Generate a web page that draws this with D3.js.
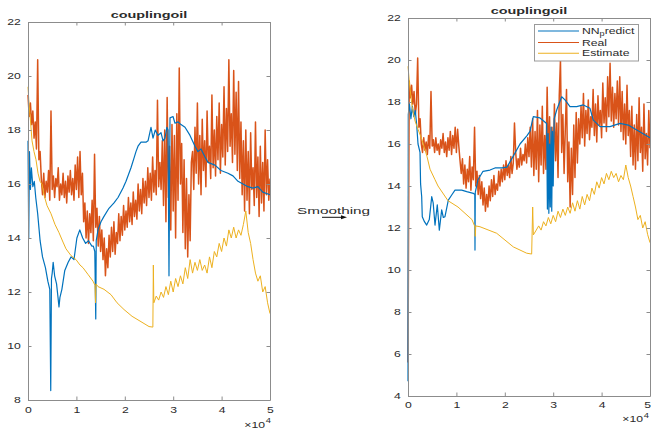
<!DOCTYPE html>
<html>
<head>
<meta charset="utf-8">
<script src="https://cdn.jsdelivr.net/npm/d3@7"></script>
<style>
  body { margin: 0; background: #fff; }
  svg { display: block; }
  text { font-family: "Liberation Sans", Arial, sans-serif; fill: #2b2b2b; }
</style>
</head>
<body>
<svg id="chart" width="651" height="429"></svg>
<script>
// ---- data -------------------------------------------------------------
// sample spacing of the "Real" records (samples)
const step = 250;
const xTicks = [0, 10000, 20000, 30000, 40000, 50000];
const yTicksLeft = [8, 10, 12, 14, 16, 18, 20, 22];
const yTicksRight = [4, 6, 8, 10, 12, 14, 16, 18, 20, 22];
const seriesNames = ["NN", "Real", "Estimate"];

// measured oil temperature, raw run
const realLeft = [
  19.3,18.5,19.0,18.2,18.7,17.7,18.3,17.3,20.6,16.9,17.2,
  16.2,15.6,16.4,15.5,16.1,15.7,16.5,15.4,18.7,15.8,16.3,15.5,16.2,15.9,16.6,15.4,16.0,15.6,16.4,15.5,16.1,15.3,16.3,15.7,16.5,15.6,16.2,15.4,16.7,15.8,17.0,15.5,17.2,15.6,16.4,
  14.6,15.3,14.0,15.0,13.8,14.9,14.2,15.4,13.9,17.1,14.4,15.1,13.7,14.8,13.5,
  14.3,13.2,14.0,12.6,13.6,12.9,14.1,13.3,14.4,13.5,14.6,13.4,14.2,13.8,14.9,
  13.9,14.8,14.1,15.2,14.3,15.0,14.4,15.5,14.6,15.3,14.5,15.7,14.8,15.4,14.7,16.0,15.0,15.8,14.9,16.2,15.3,16.1,15.2,16.6,15.5,16.4,15.4,17.0,15.7,16.5,15.6,19.1,15.9,16.8,15.8,
  17.6,15.2,18.0,14.6,19.2,15.5,17.4,14.3,18.2,15.0,17.8,14.0,18.6,15.4,20.3,16.0,17.5,14.2,16.9,13.6,16.2,13.3,15.6,13.9,16.8,
  17.2,15.8,18.1,16.4,19.0,16.0,17.8,15.6,18.4,16.5,17.6,15.9,18.7,16.8,17.4,16.2,19.3,16.6,18.0,16.3,18.5,16.9,19.0,16.4,18.2,17.0,19.6,16.7,18.8,17.2,20.6,17.4,18.6,16.8,20.2,17.1,19.4,16.5,19.8,16.2,
  18.3,15.6,17.6,15.0,18.0,15.4,17.2,14.9,17.9,15.8,16.6,15.2,18.3,15.5,17.0,14.8,17.4,15.3,16.8,15.0,18.0,15.6,16.9,15.4,16.2
];

// network prediction, raw run: [sample, value]
const nnLeft = [
  [0,17.6],[150,14.0],[300,17.2],[500,15.8],[700,16.6],[1000,15.9],[1300,16.1],[1600,15.5],[2000,14.9],[2300,14.3],
  [2500,13.9],[3000,13.3],[3600,12.9],[4100,12.4],[4500,12.1],[4700,8.35],[4850,12.5],[5000,12.7],[5200,13.1],[5500,12.6],
  [5900,12.3],[6200,11.8],[6400,11.45],[6600,11.8],[7000,12.1],[7600,12.8],[8300,13.1],[8900,13.3],[9500,13.2],[10100,14.0],
  [10700,14.3],[11300,14.0],[11900,13.8],[12500,13.9],[13200,13.7],[13500,13.7],[13800,13.5],[14000,11.0],[14100,13.9],[14460,14.3],
  [15080,14.6],[15700,14.8],[16730,15.1],[17770,15.3],[18600,15.5],[19630,15.85],[20250,16.1],[21280,16.6],[21900,16.96],[22310,17.2],
  [22730,17.4],[23350,17.55],[24380,17.55],[24800,17.6],[25410,18.1],[25830,17.7],[26300,18.0],[26860,17.8],[27480,17.9],[27900,17.6],
  [28300,17.7],[28700,18.1],[28930,18.0],[29130,12.6],[29340,18.45],[29960,18.5],[30370,18.25],[30990,18.3],[31610,18.2],[32440,18.1],
  [33470,17.8],[34500,17.4],[35120,17.2],[35740,17.3],[36570,17.0],[37190,16.8],[38630,16.7],[39870,16.5],[41320,16.4],[42350,16.3],
  [43390,16.1],[44420,16.0],[45450,15.9],[46490,15.85],[47500,15.9],[48500,15.7],[50000,15.6]
];

// model estimate, raw run: [sample, value]
const estLeft = [
  [0,19.6],[200,19.0],[400,18.6],[830,17.6],[1240,17.2],[1650,16.9],[2070,16.4],[2480,16.1],[2900,16.0],[3300,15.6],
  [3930,15.2],[4750,14.9],[5580,14.5],[6400,14.2],[7230,13.85],[7850,13.6],[8880,13.35],[9920,13.2],[10740,13.0],[11360,12.9],
  [12400,12.65],[13430,12.4],[13840,12.25],[13950,11.6],[14050,12.3],[14460,12.2],[15700,12.1],[17150,11.9],[18400,11.6],[19840,11.35],
  [21500,11.1],[23350,10.9],[25000,10.72],[25800,10.7],[25900,13.0],[26000,11.6],[26500,11.85],[27000,11.7],[27500,12.0],[28000,11.8],
  [28500,12.2],[29000,11.9],[29500,12.4],[30000,12.0],[30500,12.5],[31000,12.2],[31500,12.6],[32000,12.3],[32500,12.9],[33000,12.5],
  [33500,13.2],[34000,12.7],[34500,13.1],[35000,12.8],[35500,13.2],[36000,12.8],[36500,13.0],[37000,12.7],[37500,13.3],[38000,12.9],
  [38500,13.5],[39000,13.3],[39500,13.8],[40000,13.5],[40500,14.0],[41000,13.7],[41500,14.3],[42000,14.0],[42500,14.4],[43000,14.0],
  [43500,14.3],[44000,14.1],[44500,14.5],[45000,15.0],[45500,14.2],[46000,13.8],[46500,13.2],[47000,12.7],[47500,12.4],[48000,12.6],
  [48500,12.0],[49000,12.2],[49500,11.6],[50000,11.2]
];

// measured oil temperature, smoothed run
const realRight = [
  5.6,
  19.0,18.2,18.8,17.9,18.5,17.4,17.9,20.1,16.8,17.2,
  16.0,15.6,16.3,15.7,16.1,15.5,16.4,15.8,18.5,15.9,16.2,15.6,16.3,15.7,16.0,15.5,16.2,15.8,16.5,15.6,16.1,15.4,16.3,15.7,16.6,15.5,16.4,15.8,16.8,15.6,16.7,15.9,
  15.2,14.6,15.3,14.1,15.0,13.9,14.8,14.2,15.4,13.8,14.9,14.3,16.8,14.0,14.7,13.6,14.5,13.4,
  14.2,13.1,13.9,12.8,13.6,13.0,14.0,13.3,14.3,13.5,14.5,13.6,14.1,13.8,14.7,
  14.0,14.8,14.2,15.0,14.3,15.2,14.5,15.0,14.4,15.4,14.6,15.1,17.0,15.6,14.8,15.3,14.9,15.8,15.0,15.5,15.2,16.0,15.1,16.3,15.4,
  16.8,14.9,17.2,14.5,16.6,14.8,17.6,14.2,16.9,15.0,17.8,14.6,16.4,14.8,18.7,15.3,17.3,14.1,16.8,14.9,17.9,15.2,17.0,14.4,18.3,20.0,15.6,17.4,14.6,16.7,18.6,14.2,16.1,13.0,15.8,13.6,16.9,14.4,17.5,15.1,17.2,
  16.0,17.8,16.3,18.4,15.9,17.6,16.5,18.1,16.2,17.3,16.8,18.6,16.4,17.9,16.1,18.3,16.9,17.6,16.3,18.9,17.0,18.2,16.6,19.2,17.3,19.85,17.1,18.7,16.8,18.4,17.2,19.0,16.9,19.2,16.6,18.5,16.2,17.9,16.0,18.8,16.4,17.6,
  15.4,17.8,15.0,16.9,14.8,17.4,15.2,18.2,15.6,16.8,14.7,17.9,15.3,16.5,15.0,17.6,15.8
];

// network prediction, smoothed run: [sample, value]
const nnRight = [
  [0,4.7],[60,17.4],[300,17.9],[600,17.2],[900,17.8],[1200,17.3],[1500,17.6],[1800,16.9],[2070,16.0],[2480,15.6],
  [2600,14.1],[2830,13.49],[2950,12.54],[3400,12.3],[3860,12.14],[4400,12.4],[4900,13.49],[5200,13.2],[5580,12.14],[6050,13.1],
  [6470,11.9],[6960,12.86],[7300,12.5],[7640,12.54],[8330,13.33],[9030,13.57],[9710,13.8],[11090,13.8],[12130,13.73],[13490,13.65],
  [13800,13.6],[13840,10.95],[13900,13.7],[14460,14.3],[15500,14.7],[16940,14.76],[17970,14.86],[19420,14.86],[20450,14.9],[21690,15.4],
  [23140,16.0],[24590,16.4],[25200,16.6],[25890,17.3],[27270,17.24],[28650,16.98],[28800,12.9],[28950,16.5],[29100,12.7],[29250,16.0],
  [29400,13.0],[29550,16.8],[29700,12.8],[29850,16.6],[30000,14.0],[30200,17.2],[30720,17.62],[31750,18.25],[32440,18.1],[33470,17.78],
  [34850,17.78],[36220,17.86],[37600,17.7],[38290,17.14],[39670,16.83],[41730,16.83],[43800,16.98],[45510,16.9],[47000,16.7],[48500,16.5],
  [50000,16.3]
];

// model estimate, smoothed run: [sample, value]
const estRight = [
  [0,19.7],[300,18.9],[830,17.8],[1450,17.1],[2070,16.7],[2890,16.2],[3930,15.4],[4550,14.8],[5580,14.3],[6200,14.0],
  [8260,13.3],[10330,13.0],[13220,12.4],[13840,12.05],[13900,11.6],[14000,12.1],[14870,12.06],[18320,11.75],[21760,11.1],[24520,10.8],
  [25550,10.76],[25760,13.0],[25900,11.67],[26500,11.9],[27000,12.1],[27500,11.9],[28000,12.3],[28500,12.1],[29000,12.5],[29500,12.2],
  [30000,12.6],[30500,12.3],[31000,12.8],[31500,12.5],[32000,12.9],[32500,12.6],[33000,13.0],[33500,12.7],[34000,13.2],[34500,12.8],
  [35000,13.3],[35500,12.9],[36000,13.5],[36500,13.1],[37000,13.6],[37500,13.3],[38000,13.9],[38500,13.6],[39000,14.2],[39500,13.9],
  [40000,14.4],[40500,14.1],[41000,14.6],[41500,14.3],[42000,14.7],[42500,14.4],[43000,14.6],[43500,14.2],[44000,14.5],[44500,14.3],
  [45000,15.0],[45500,14.4],[46000,14.0],[46500,13.5],[47000,13.0],[47500,12.4],[48000,12.6],[48500,12.0],[49000,12.3],[49500,11.7],
  [50000,11.3]
];

// ---- drawing ----------------------------------------------------------
const colors = { nn: "#0072BD", real: "#D95319", est: "#EDB120" };
const axisGray = "#8c8c8c";
const fontSize = 8.6;
const stretch = 1.42;     // horizontal widening applied to all labels
const pageWidth = 651;

const svg = d3.select("#chart");

function panel(o) {
  const x = d3.scaleLinear().domain([0, 50000]).range([o.left, o.right]);
  const y = d3.scaleLinear().domain([o.yTicks[0], o.yTicks[o.yTicks.length - 1]]).range([o.bottom, o.top]);
  const g = svg.append("g");

  g.append("rect")
    .attr("x", o.left).attr("y", o.top)
    .attr("width", o.right - o.left).attr("height", o.bottom - o.top)
    .attr("fill", "#fff");

  const line = d3.line().x(d => x(d[0])).y(d => y(d[1]));
  const realPts = o.real.map((v, i) => [i * step, v]);

  g.append("path").datum(realPts).attr("d", line)
    .attr("fill", "none").attr("stroke", colors.real).attr("stroke-width", 1.5).attr("stroke-linejoin", "round");
  g.append("path").datum(o.nn).attr("d", line)
    .attr("fill", "none").attr("stroke", colors.nn).attr("stroke-width", 1.2).attr("stroke-linejoin", "round");
  g.append("path").datum(o.est).attr("d", line)
    .attr("fill", "none").attr("stroke", colors.est).attr("stroke-width", 1).attr("stroke-linejoin", "round");

  const tick = 3.5;
  const styleAxis = sel => {
    sel.select(".domain").attr("stroke", axisGray).attr("stroke-width", 1);
    sel.selectAll(".tick line").attr("stroke", axisGray).attr("stroke-width", 1);
  };

  const bottom = g.append("g").attr("transform", `translate(0,${o.bottom})`)
    .call(d3.axisBottom(x).tickValues(xTicks).tickSize(-tick).tickSizeOuter(0).tickFormat(d => d / 10000))
    .call(styleAxis);
  bottom.selectAll(".tick text")
    .attr("y", o.xLabelDy).attr("dy", 0)
    .attr("font-size", fontSize).attr("fill", "#2b2b2b")
    .attr("transform", `scale(${stretch},1)`);
  // keep the last label inside the page when the axis ends at its edge
  if (o.right > pageWidth - 6) {
    bottom.selectAll(".tick text").filter(d => d === 50000)
      .attr("text-anchor", "end").attr("x", (pageWidth - 0.5 - o.right) / stretch);
  }

  g.append("g").attr("transform", `translate(0,${o.top})`)
    .call(d3.axisTop(x).tickValues(xTicks).tickSize(-tick).tickSizeOuter(0).tickFormat(""))
    .call(styleAxis);

  const left = g.append("g").attr("transform", `translate(${o.left},0)`)
    .call(d3.axisLeft(y).tickValues(o.yTicks).tickSize(-tick).tickSizeOuter(0))
    .call(styleAxis);
  left.selectAll(".tick text")
    .attr("x", -7.3 / stretch).attr("dy", "0.34em")
    .attr("font-size", fontSize).attr("fill", "#2b2b2b")
    .attr("transform", `scale(${stretch},1)`);

  g.append("g").attr("transform", `translate(${o.right},0)`)
    .call(d3.axisRight(y).tickValues(o.yTicks).tickSize(-tick).tickSizeOuter(0).tickFormat(""))
    .call(styleAxis);

  // axis exponent  ×10^4
  const ex = g.append("g").attr("transform", `translate(${o.expX},${o.expY})`);
  ex.append("text").attr("text-anchor", "end").attr("font-size", fontSize)
    .attr("transform", `scale(${stretch},1)`).text("\u00d710");
  ex.append("text").attr("x", 0.6).attr("y", -4.5).attr("font-size", 6.6)
    .attr("transform", `scale(${stretch},1)`).text("4");

  // title
  g.append("text")
    .attr("transform", `translate(${(o.left + o.right) / 2},${o.titleY}) scale(1.5,1)`)
    .attr("text-anchor", "middle").attr("font-size", 9.6).attr("font-weight", "bold")
    .attr("fill", "#1a1a1a").text("couplingoil");

  return { x, y, g };
}

panel({
  left: 28, right: 270, top: 22, bottom: 400,
  yTicks: yTicksLeft, real: realLeft, nn: nnLeft, est: estLeft,
  xLabelDy: 12.7, expX: 265, expY: 427.5, titleY: 18
});

panel({
  left: 408, right: 650, top: 18, bottom: 396,
  yTicks: yTicksRight, real: realRight, nn: nnRight, est: estRight,
  xLabelDy: 12.5, expX: 643, expY: 422, titleY: 14
});

// legend
const lg = svg.append("g");
lg.append("rect").attr("x", 534.5).attr("y", 24.5).attr("width", 104).attr("height", 36.5)
  .attr("fill", "#fff").attr("stroke", "#9a9a9a").attr("stroke-width", 1);
const legendRows = [
  { key: "nn", y: 31 }, { key: "real", y: 42.5 }, { key: "est", y: 53.3 }
];
legendRows.forEach((r, i) => {
  lg.append("line").attr("x1", 538).attr("x2", 579).attr("y1", r.y).attr("y2", r.y)
    .attr("stroke", colors[r.key]).attr("stroke-width", 1.1);
  const t = lg.append("text")
    .attr("transform", `translate(582,${r.y + 3}) scale(${stretch},1)`)
    .attr("font-size", fontSize);
  if (r.key === "nn") {
    t.append("tspan").text(seriesNames[0]);
    t.append("tspan").attr("dy", 2).attr("font-size", 6.4).text("p");
    t.append("tspan").attr("dy", -2).text("redict");
  } else {
    t.text(seriesNames[i]);
  }
});

// "Smoothing" caption and arrow between the panels
svg.append("text")
  .attr("transform", "translate(297,213.5) scale(1.7,1)")
  .attr("font-size", 9).text("Smoothing");
svg.append("line").attr("x1", 322).attr("x2", 342).attr("y1", 217.3).attr("y2", 217.3)
  .attr("stroke", "#111").attr("stroke-width", 1);
svg.append("path").attr("d", "M341,215.3 L347,217.3 L341,219.3 Z").attr("fill", "#111");
</script>
</body>
</html>
